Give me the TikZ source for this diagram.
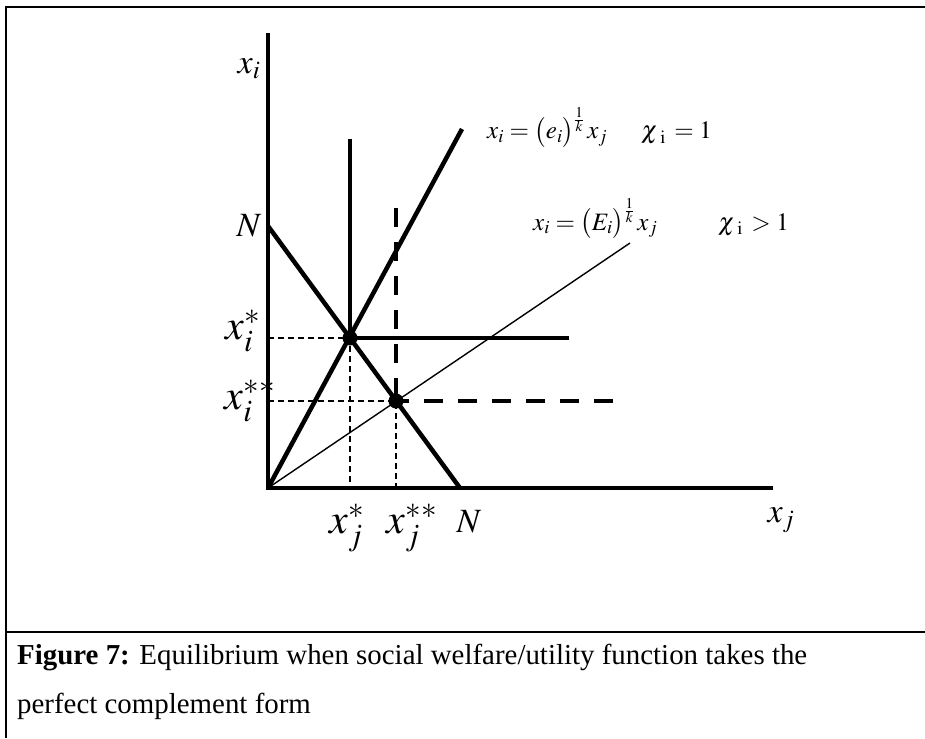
\documentclass[tikz,border=0pt]{standalone}
\usepackage{mathptmx}
\usepackage[no-math]{fontspec}
\setmainfont{Liberation Serif}
\begin{document}
\begin{tikzpicture}[x=1pt,y=-1pt,
  frame/.style={line width=2.5pt},
  axis/.style={line width=4pt},
  bold/.style={line width=4.5pt},
  thinline/.style={line width=1.4pt},
  guide/.style={line width=1.4pt, dash pattern=on 6pt off 4pt},
  thickdash/.style={line width=4pt, dash pattern=on 19pt off 15pt},
  dot/.style={circle, fill=black, inner sep=0pt, minimum size=15pt},
  lab/.style={inner sep=0pt, font=\fontsize{34}{38}\selectfont},
  biglab/.style={inner sep=0pt, font=\fontsize{42}{46}\selectfont},
  eq/.style={inner sep=0pt, anchor=base west, font=\fontsize{25}{28}\selectfont},
  captext/.style={inner sep=0pt, anchor=base west, font=\fontsize{28.9}{32}\selectfont}]
\useasboundingbox (0,0) rectangle (925,738);
% frame
\coordinate (fTR) at (925,7);
\coordinate (fTL) at (6,7);
\coordinate (fBL) at (6,738);
\coordinate (sL) at (6,632);
\coordinate (sR) at (925,632);
\draw[frame] (fTR) -- (fTL) -- (fBL);
\draw[frame] (sL) -- (sR);
% key points
\coordinate (O) at (268,488);
\coordinate (Ytop) at (268,33);
\coordinate (Xend) at (773,488);
\coordinate (N1) at (268,226);
\coordinate (N2) at (460,488);
\coordinate (P1) at (350,338);
\coordinate (P2) at (396,401);
\coordinate (RayEnd) at (462,129);
\coordinate (ThinEnd) at (630,243);
\coordinate (V1top) at (350,139);
\coordinate (H1end) at (569,338);
\coordinate (V2top) at (396,208);
\coordinate (H2end) at (613,401);
\coordinate (G1a) at (268,338);
\coordinate (G1b) at (350,488);
\coordinate (G2a) at (268,401);
\coordinate (G2b) at (396,488);
% guides
\draw[guide] (G1a) -- (P1) -- (G1b);
\draw[guide] (G2a) -- (P2) -- (G2b);
% axes
\draw[axis] (Ytop) -- (O) -- (Xend);
% lines
\draw[bold] (N1) -- (N2);
\draw[bold] (O) -- (RayEnd);
\draw[thinline] (O) -- (ThinEnd);
\draw[bold] (V1top) -- (P1) -- (H1end);
\draw[thickdash] (V2top) -- (P2);
\draw[thickdash] (H2end) -- (P2);
\node[dot] (d1) at (P1) {};
\node[dot] (d2) at (P2) {};
% labels
\node[lab] (lxi) at (249,69) {$x_i$};
\node[lab] (lN1) at (249,226) {$N$};
\node[biglab] (lxis) at (243,331) {$x_i^{*}$};
\node[biglab] (lxiss) at (250,401) {$x_i^{**}$};
\node[biglab] (lxjs) at (347,528) {$x_j^{*}$};
\node[biglab] (lxjss) at (412,528) {$x_j^{**}$};
\node[lab] (lN2) at (469,522) {$N$};
\node[lab] (lxj) at (781,520) {$x_j$};
\node[eq] (eq1) at (487,139) {$x_i=\bigl(e_i\bigr)^{\frac{1}{k}}\,x_j$};
\node[eq] (chi1) at (641,139) {$\chi\,{}_{\mathrm{i}}\,=1$};
\node[eq] (eq2) at (533,230) {$x_i=\bigl(E_i\bigr)^{\frac{1}{k}}\,x_j$};
\node[eq] (chi2) at (718,230) {$\chi\,{}_{\mathrm{i}}\,>1$};
% caption
\node[captext] (c1) at (17,664) {\textbf{Figure 7:} Equilibrium when social welfare/utility function takes the};
\node[captext] (c2) at (17,713) {perfect complement form};
\end{tikzpicture}
\end{document}
